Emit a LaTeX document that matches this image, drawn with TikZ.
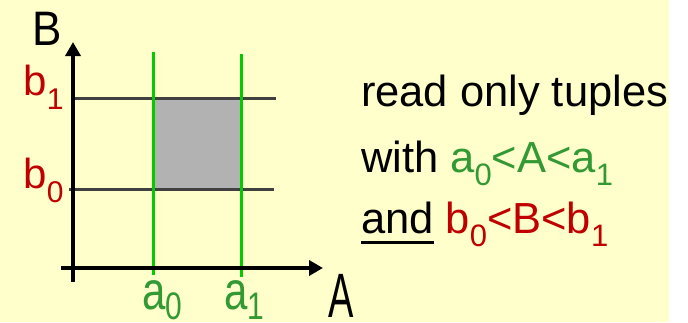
\documentclass[tikz,border=0pt]{standalone}
\usepackage{fontspec}
\setmainfont{Liberation Sans}
\usetikzlibrary{arrows.meta}
\definecolor{bgyellow}{RGB}{255,255,204}
\definecolor{txtgreen}{RGB}{51,153,51}
\definecolor{txtred}{RGB}{192,0,0}
\definecolor{linegreen}{RGB}{0,204,0}
\definecolor{linegray}{RGB}{64,64,64}
\definecolor{fillgray}{RGB}{178,178,178}
\newcommand\txtsub[1]{\raisebox{-13pt}{\fontsize{31}{31}\selectfont #1}}
\newcommand\axsub[1]{\raisebox{-14pt}{\fontsize{30}{30}\selectfont #1}}
\newcommand\myul[1]{\setbox0\hbox{#1}\rlap{\rule[-11.2pt]{\wd0}{3pt}}\box0\relax}
\begin{document}
\begin{tikzpicture}[x=1pt,y=-1pt,
  lbl/.style={inner sep=0pt,outer sep=0pt,anchor=base west},
  axis/.style={line width=3.5pt,black,-{Triangle[length=14pt,width=15pt]}},
  gline/.style={line width=3pt,linegreen},
  hline/.style={line width=3pt,linegray}]
\useasboundingbox (0,0) rectangle (688,322);
\fill[bgyellow] (0,0) rectangle (669,322);
% coordinates
\coordinate (yb) at (73,282);
\coordinate (yt) at (73,42);
\coordinate (xl) at (61,268);
\coordinate (xr) at (323,268);
\coordinate (g0t) at (153,52);
\coordinate (g0b) at (153,275);
\coordinate (g1t) at (241,54);
\coordinate (g1b) at (241,277);
\coordinate (h1l) at (71,98);
\coordinate (h1r) at (276,98);
\coordinate (h0l) at (69,189);
\coordinate (h0r) at (274,189);
\coordinate (rlo) at (153,189);
\coordinate (rhi) at (241,98);
% region
\fill[fillgray] (rlo) rectangle (rhi);
\draw[hline] (h1l) -- (h1r);
\draw[hline] (h0l) -- (h0r);
\draw[gline] (g0t) -- (g0b);
\draw[gline] (g1t) -- (g1b);
\draw[axis] (yb) -- (yt);
\draw[axis] (xl) -- (xr);
% axis labels
\node[lbl] (B) at (32,45) {\scalebox{1}[1.1]{\fontsize{44}{44}\selectfont B}};
\node[lbl,text=txtred] (b1) at (23.5,95) {\fontsize{42}{42}\selectfont b\axsub{1}};
\node[lbl,text=txtred] (b0) at (23.5,188) {\fontsize{42}{42}\selectfont b\axsub{0}};
\node[lbl,text=txtgreen] (a0) at (142,309) {\scalebox{1}[1.28]{\fontsize{42}{42}\selectfont a\raisebox{-8pt}{\fontsize{30}{30}\selectfont 0}}};
\node[lbl,text=txtgreen] (a1) at (224,309) {\scalebox{1}[1.28]{\fontsize{42}{42}\selectfont a\raisebox{-8pt}{\fontsize{30}{30}\selectfont 1}}};
\node[lbl] (A) at (328,317) {\scalebox{1}[1.65]{\fontsize{38}{38}\selectfont A}};
% text
\node[lbl] (t1) at (361,106.5) {\fontsize{43.5}{43.5}\selectfont read only tuples};
\node[lbl] (t2) at (361,172) {\fontsize{43.5}{43.5}\selectfont with \textcolor{txtgreen}{a\txtsub{0}<A<a\txtsub{1}}};
\node[lbl] (t3) at (361,233) {\fontsize{43.5}{43.5}\selectfont \myul{and} \textcolor{txtred}{b\txtsub{0}<B<b\txtsub{1}}};
\end{tikzpicture}
\end{document}
